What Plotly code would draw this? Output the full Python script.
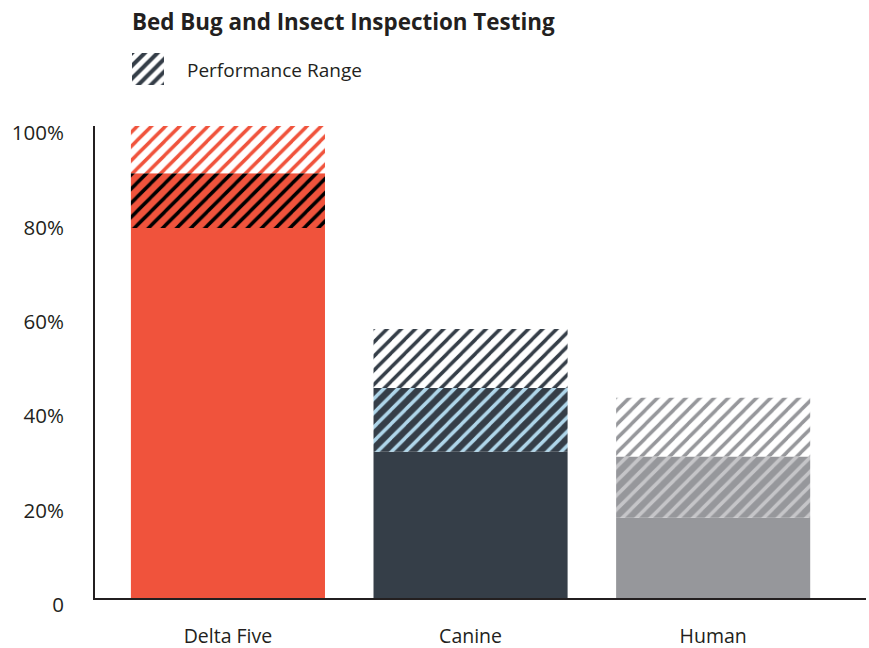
import plotly.graph_objects as go

categories = ["Delta Five", "Canine", "Human"]
range_low = [78.4, 31.0, 17.0]
typical = [90.0, 44.5, 30.0]
range_high = [100.0, 57.0, 42.4]

tick_vals = [0, 20, 40, 60, 80, 100]
tick_text = ["0", "20%", "40%", "60%", "80%", "100%"]

bar_colors = ["#F0533C", "#353E48", "#96979B"]
inner_stripe = ["#000000", "#AFD6EA", "#C5C5C8"]
text_color = "#231F20"
font_family = "Open Sans"

W = 0.8
FW, FH = 869, 648

fig = go.Figure()
for i, cat in enumerate(categories):
    # solid part below the range
    fig.add_trace(go.Bar(
        x=[i], y=[range_low[i]], base=[0], width=W,
        marker=dict(color=bar_colors[i], line=dict(width=0)),
        showlegend=False, hoverinfo="skip"))
    # hatched part over the solid bar
    fig.add_trace(go.Bar(
        x=[i], y=[typical[i] - range_low[i]], base=[range_low[i]], width=W,
        marker=dict(color=bar_colors[i], line=dict(width=0),
                    pattern=dict(shape="/", fgcolor=inner_stripe[i], bgcolor=bar_colors[i],
                                 size=10, solidity=0.35, fillmode="replace")),
        showlegend=False, hoverinfo="skip"))
    # hatched part above the solid bar
    fig.add_trace(go.Bar(
        x=[i], y=[range_high[i] - typical[i]], base=[typical[i]], width=W,
        marker=dict(color="white", line=dict(width=0),
                    pattern=dict(shape="/", fgcolor=bar_colors[i], bgcolor="white",
                                 size=10, solidity=0.35, fillmode="replace")),
        showlegend=False, hoverinfo="skip"))

# legend icon in an inset axis
fig.add_trace(go.Bar(
    x=[0], y=[1], width=1, xaxis="x2", yaxis="y2",
    marker=dict(color="white", line=dict(width=0),
                pattern=dict(shape="/", fgcolor="#353E48", bgcolor="white",
                             size=9, solidity=0.45, fillmode="replace")),
    showlegend=False, hoverinfo="skip"))

fig.update_layout(
    width=FW, height=FH,
    margin=dict(l=0, r=0, t=0, b=0),
    paper_bgcolor="white", plot_bgcolor="white",
    barmode="overlay",
    font=dict(family=font_family, color=text_color),
    title=dict(text="<b>Bed Bug and Insect Inspection Testing</b>",
               x=132 / FW, xanchor="left", y=1 - 22 / FH, yanchor="middle",
               font=dict(size=22.4, family=font_family, color=text_color)),
    xaxis=dict(domain=[95 / FW, 866 / FW], automargin=False,
               tickmode="array", tickvals=list(range(len(categories))), ticktext=categories,
               range=[-0.548, 2.63], showline=True, linecolor=text_color, linewidth=2,
               showgrid=False, zeroline=False, ticks="", ticklabelstandoff=20,
               tickfont=dict(size=19.5, color=text_color)),
    yaxis=dict(domain=[1 - 598 / FH, 1 - 126 / FH], automargin=False,
               range=[0, 100], tickmode="array", tickvals=tick_vals, ticktext=tick_text,
               showline=True, linecolor=text_color, linewidth=2, showgrid=False,
               zeroline=False, ticks="", ticklabelstandoff=25, ticklabelshift=7,
               tickfont=dict(size=20.5, color=text_color)),
    xaxis2=dict(domain=[132 / FW, 164 / FW], range=[-0.5, 0.5], visible=False,
                anchor="y2", fixedrange=True),
    yaxis2=dict(domain=[1 - 85 / FH, 1 - 53 / FH], range=[0, 1], visible=False,
                anchor="x2", fixedrange=True),
    annotations=[dict(text="Performance Range", x=185 / FW, y=1 - 70 / FH,
                      xref="paper", yref="paper", xanchor="left", yanchor="middle",
                      showarrow=False, font=dict(size=19, color=text_color))],
)

fig.write_html("out.html", config={"displayModeBar": False},
               post_script="document.body.style.margin='0';")
